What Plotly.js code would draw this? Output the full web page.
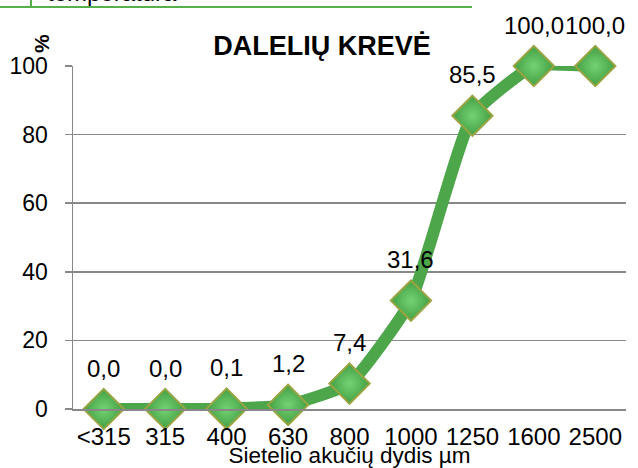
<!DOCTYPE html>
<html>
<head>
<meta charset="utf-8">
<script src="https://cdn.plot.ly/plotly-3.0.1.min.js"></script>
<style>html,body{margin:0;padding:0;background:#fff;}#chart{width:638px;height:468px;}</style>
</head>
<body>
<div id="chart"></div>
<script>
const categories = ['<315', '315', '400', '630', '800', '1000', '1250', '1600', '2500'];
const values = [0.0, 0.0, 0.1, 1.2, 7.4, 31.6, 85.5, 100.0, 100.0];
const yTicks = [0, 20, 40, 60, 80, 100];
const chartTitle = 'DALELIŲ KREVĖ';
const xTitle = 'Sietelio akučių dydis µm';
const yTitle = '%';
const cutText = 'temperatūra';

const FONT = 'Liberation Sans, Arial, sans-serif';
const GREY = '#888888';
const GREEN = '#4ea64a';

const esc = s => s.replace(/&/g, '&amp;').replace(/</g, '&lt;').replace(/>/g, '&gt;');
const fmt = v => v.toFixed(1).replace('.', ',');
const idx = categories.map((c, i) => i);

const labelAnnotations = idx.map(i => ({
  x: i, y: values[i], xref: 'x', yref: 'y',
  text: fmt(values[i]), showarrow: false, yshift: 41,
  font: {family: FONT, size: 24, color: '#000'}
}));

// pixel -> paper helpers (plot area: x 73..626, y 66..409)
const px = p => (p - 73) / 553;
const py = p => (409 - p) / 343;

const data = [{
  type: 'scatter', mode: 'lines+markers',
  x: idx, y: values,
  line: {color: GREEN, width: 12, shape: 'spline', smoothing: 0.45},
  marker: {symbol: 'diamond', size: 31, color: '#42a042',
           gradient: {type: 'radial', color: '#74d274'},
           line: {color: '#9aa443', width: 2}},
  cliponaxis: false, hoverinfo: 'none'
}];

const layout = {
  width: 638, height: 468,
  margin: {l: 73, r: 12, t: 66, b: 59},
  paper_bgcolor: '#fff', plot_bgcolor: '#fff',
  showlegend: false,
  font: {family: FONT, color: '#000'},
  title: {text: '<b>' + chartTitle + '</b>', font: {family: FONT, size: 27, color: '#000'},
          xref: 'container', x: 322 / 638, yref: 'container', y: 1 - 46 / 468,
          xanchor: 'center', yanchor: 'middle'},
  xaxis: {type: 'linear', range: [-0.5, categories.length - 0.5],
          tickvals: idx, ticktext: categories.map(esc),
          showline: true, linecolor: GREY, linewidth: 1.5,
          showgrid: false, ticks: '', zeroline: false, ticklabelstandoff: 6,
          tickfont: {family: FONT, size: 24, color: '#000'},
          title: {text: xTitle, font: {family: FONT, size: 22.5, color: '#000'}, standoff: 3}},
  yaxis: {range: [0, 100], tickvals: yTicks, showline: true, linecolor: GREY, linewidth: 1.5,
          ticks: 'outside', ticklen: 7, tickcolor: GREY, tickwidth: 1.5, ticklabelstandoff: 12,
          showgrid: true, gridcolor: GREY, gridwidth: 1.5, zeroline: false,
          tickfont: {family: FONT, size: 23, color: '#000'}},
  annotations: labelAnnotations.concat([
    {xref: 'paper', yref: 'paper', x: px(41), y: py(44), xanchor: 'center', yanchor: 'middle',
     text: '<b>' + yTitle + '</b>',
     textangle: -90, showarrow: false, font: {family: FONT, size: 21, color: '#000'}},
    {xref: 'paper', yref: 'paper', x: px(45), y: py(8), xanchor: 'left', yanchor: 'bottom',
     text: cutText, showarrow: false, font: {family: FONT, size: 24, color: '#000'}}
  ]),
  shapes: [
    {type: 'line', xref: 'paper', yref: 'paper', x0: px(0), x1: px(472), y0: py(7), y1: py(7),
     line: {color: '#55b04a', width: 2}},
    {type: 'line', xref: 'paper', yref: 'paper', x0: px(31), x1: px(31), y0: py(-5), y1: py(7),
     line: {color: '#55b04a', width: 2}}
  ]
};

Plotly.newPlot('chart', data, layout, {displayModeBar: false, staticPlot: true});
</script>
</body>
</html>
